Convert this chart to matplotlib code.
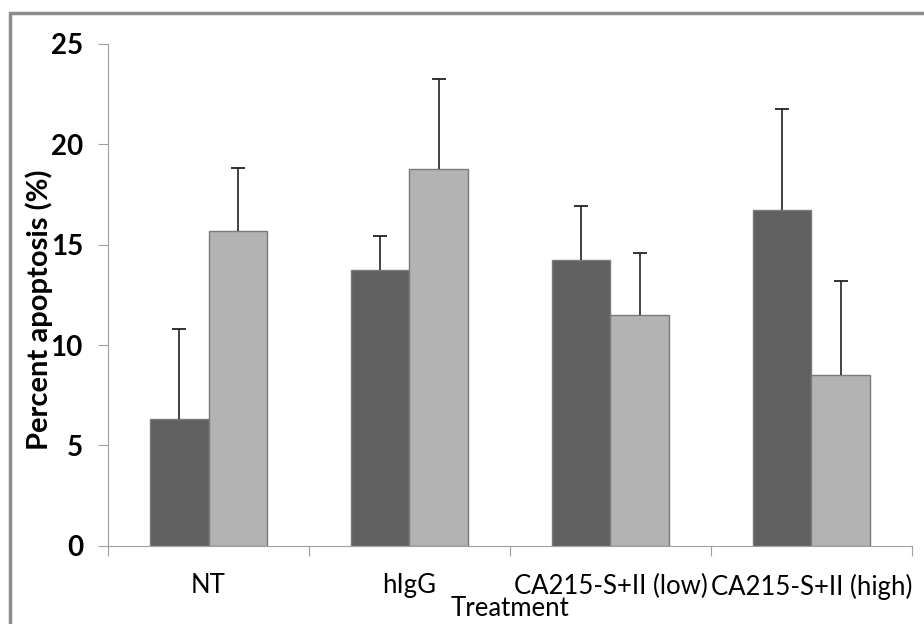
import matplotlib.pyplot as plt
import numpy as np
from matplotlib.patches import Rectangle

# datos
categorias = ["NT", "hIgG", "CA215-S+II (low)", "CA215-S+II (high)"]
serie_oscura = [6.3, 13.75, 14.25, 16.75]
err_oscura = [4.5, 1.7, 2.7, 5.0]
serie_clara = [15.7, 18.75, 11.5, 8.5]
err_clara = [3.1, 4.5, 3.1, 4.7]

fig = plt.figure(figsize=(9.24, 6.24), dpi=100)
ax = fig.add_axes([0.1169, 0.1255, 0.870, 0.804])

# marco gris alrededor del grafico
marco = Rectangle((10 / 924, -0.05), 1.2, 1 - 13 / 624 + 0.05, transform=fig.transFigure,
                  fill=False, edgecolor="#8c8c8c", linewidth=2.5, zorder=0)
fig.patches.append(marco)

x = np.arange(len(categorias))
ancho = 0.29
kw_err = dict(ecolor="#222222", elinewidth=1.2, capsize=5, capthick=1.3)
b1 = ax.bar(x - ancho / 2, serie_oscura, ancho, color="#606060", edgecolor="#7a7a7a", linewidth=1,
            yerr=[np.zeros(4), err_oscura], error_kw=kw_err)
b2 = ax.bar(x + ancho / 2, serie_clara, ancho, color="#b3b3b3", edgecolor="#7a7a7a", linewidth=1,
            yerr=[np.zeros(4), err_clara], error_kw=kw_err)
# solo la barra de error hacia arriba, sin tope abajo
for b in (b1, b2):
    b.errorbar.lines[1][0].set_visible(False)

ax.set_xlim(-0.5, len(categorias) - 0.5)
ax.set_ylim(0, 25)
ax.set_yticks([0, 5, 10, 15, 20, 25])

for s in ["top", "right"]:
    ax.spines[s].set_visible(False)
ax.spines["left"].set_color("#a0a0a0")
ax.spines["bottom"].set_color("#a0a0a0")

fuente = "Lato"
ax.set_xticks(np.arange(len(categorias) + 1) - 0.5, minor=False)
ax.set_xticklabels([])
ax.set_xticks(x, minor=True)
ax.set_xticklabels(categorias, minor=True, fontsize=18.5, family=fuente)
ax.tick_params(axis="x", which="minor", length=0, pad=20)
ax.tick_params(axis="x", which="major", length=7, color="#a0a0a0")
ax.tick_params(axis="y", length=7, color="#a0a0a0", pad=11)
for t in ax.get_yticklabels():
    t.set_fontsize(20)
    t.set_family(fuente)
    t.set_fontweight("bold")

# etiquetas de los ejes colocadas a mano como en la original
fig.text(39 / 924, 1 - 310 / 624, "Percent apoptosis (%)", rotation=90, ha="center", va="center",
         fontsize=21, family=fuente, fontweight="bold")
fig.text(510 / 924, 1 - 608 / 624, "Treatment", ha="center", va="center",
         fontsize=18.5, family=fuente)

fig.savefig("out.png", dpi=100)
